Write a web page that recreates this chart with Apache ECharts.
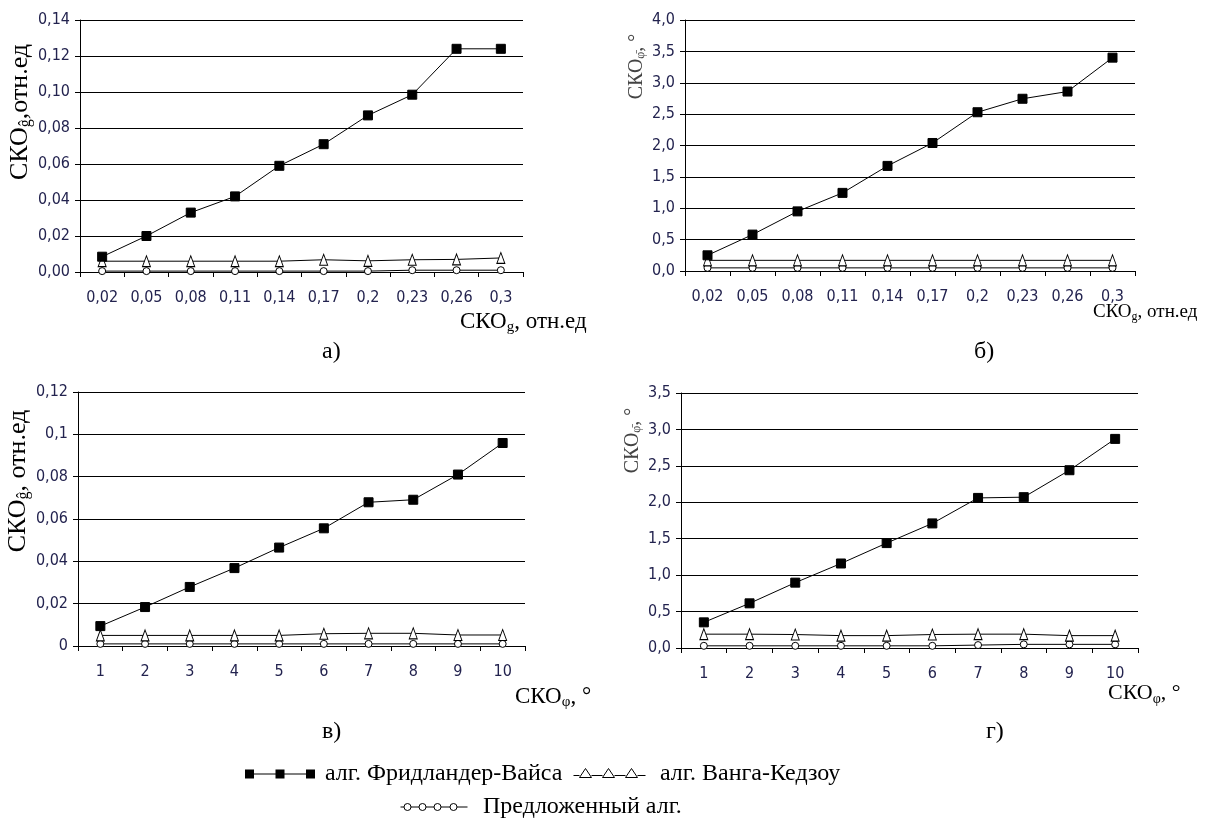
<!DOCTYPE html>
<html>
<head>
<meta charset="utf-8">
<script src="https://cdn.jsdelivr.net/npm/echarts@6/dist/echarts.min.js"></script>
<style>
html,body{margin:0;padding:0;background:#fff;}
#chart{width:1221px;height:834px;}
</style>
</head>
<body>
<div id="chart"></div>
<script>
// категории по оси X
var catsG = ['0,02','0,05','0,08','0,11','0,14','0,17','0,2','0,23','0,26','0,3'];
var catsPhi = ['1','2','3','4','5','6','7','8','9','10'];

// а) СКО g от СКО g
var fwA = [0.0085,0.020,0.033,0.042,0.059,0.071,0.087,0.0985,0.124,0.124];
var wkA = [0.006,0.006,0.006,0.006,0.006,0.0068,0.0062,0.0068,0.007,0.0078];
var prA = [0.0005,0.0005,0.0005,0.0005,0.0005,0.0005,0.0005,0.001,0.001,0.001];

// б) СКО фи от СКО g
var fwB = [0.25,0.58,0.95,1.245,1.675,2.04,2.53,2.745,2.86,3.40];
var wkB = [0.17,0.17,0.17,0.17,0.17,0.17,0.17,0.17,0.17,0.17];
var prB = [0.05,0.05,0.05,0.05,0.05,0.05,0.05,0.05,0.05,0.05];

// в) СКО g от СКО фи
var fwC = [0.0094,0.0184,0.0279,0.0368,0.0465,0.0556,0.0679,0.0691,0.081,0.0959];
var wkC = [0.005,0.005,0.005,0.005,0.005,0.0058,0.006,0.006,0.0052,0.0052];
var prC = [0.001,0.001,0.001,0.001,0.001,0.001,0.001,0.001,0.001,0.001];

// г) СКО фи от СКО фи
var fwD = [0.352,0.613,0.897,1.16,1.44,1.71,2.06,2.07,2.44,2.87];
var wkD = [0.19,0.19,0.185,0.17,0.17,0.185,0.19,0.19,0.17,0.17];
var prD = [0.03,0.03,0.03,0.03,0.03,0.03,0.04,0.05,0.05,0.05];

var nFW = 'алг. Фридландер-Вайса';
var nWK = 'алг. Ванга-Кедзоу';
var nPR = 'Предложенный алг.';

var sans = "'DejaVu Sans Condensed', 'Liberation Sans', sans-serif";
var serif = "'Liberation Serif', serif";
var tickColor = '#23234f';

var myChart = echarts.init(document.getElementById('chart'));

function comma(digits){
	return function(v){
		var s = digits === null ? String(+v.toFixed(4)) : v.toFixed(digits);
		return s.replace('.', ',');
	};
}

function xAx(idx, cats){
	return {
		type:'category', gridIndex:idx, data:cats, boundaryGap:true,
		axisLine:{lineStyle:{color:'#000',width:1}},
		axisTick:{show:true,interval:0,length:5,lineStyle:{color:'#000'}},
		axisLabel:{interval:0,margin:18,fontSize:16,fontFamily:sans,color:tickColor},
		splitLine:{show:false}
	};
}
function yAx(idx, max, step, digits, name, nameSize, nameColor, gap, shift){
	return {
		type:'value', gridIndex:idx, min:0, max:max, interval:step,
		axisLine:{show:true,lineStyle:{color:'#000',width:1}},
		axisTick:{show:true,length:5,lineStyle:{color:'#000'}},
		axisLabel:{margin:10,fontSize:16,fontFamily:sans,color:tickColor,formatter:comma(digits)},
		splitLine:{show:true,lineStyle:{color:'#000',width:1}},
		name:name, nameLocation:'middle', nameRotate:90, nameGap:gap,
		nameTextStyle:{
			fontFamily:serif, fontSize:nameSize, color:nameColor,
			padding:[0,0,0,shift],
			rich:{
				m:{fontFamily:serif,fontSize:nameSize,color:nameColor},
				s:{fontFamily:serif,fontSize:Math.round(nameSize*0.62),color:nameColor,padding:[Math.round(nameSize*0.45),0,0,0]}
			}
		}
	};
}
function ser(name, idx, data, kind){
	var s = {
		name:name, type:'line', xAxisIndex:idx, yAxisIndex:idx, data:data,
		lineStyle:{color:'#000',width:1}, animation:false, z:2
	};
	if(kind === 'sq'){
		s.symbol='rect'; s.symbolSize=9; s.itemStyle={color:'#000',borderColor:'#000'}; s.z=4;
	}else if(kind === 'tr'){
		s.symbol='triangle'; s.symbolSize=[8,11]; s.itemStyle={color:'#fff',borderColor:'#000',borderWidth:1}; s.z=3;
	}else{
		s.symbol='circle'; s.symbolSize=7; s.itemStyle={color:'#fff',borderColor:'#000',borderWidth:1};
	}
	return s;
}

var iconSq = 'path://M0 4.4h70v1.2h-70z M0 0.5h9v9h-9z M30.5 0.5h9v9h-9z M61 0.5h9v9h-9z';
var iconTr = 'path://M0 7L6 7 M18 7L29 7 M41 7L52 7 M64 7L72 7 M6 9L12 0L18 9Z M29 9L35 0L41 9Z M52 9L58 0L64 9Z';
var iconCi = 'path://M0 5L3.5 5 M10.5 5L18.5 5 M25.5 5L33.5 5 M40.5 5L49.5 5 M56.5 5L67 5 '
	+'M10.5 5A3.5 3.5 0 1 1 3.5 5A3.5 3.5 0 1 1 10.5 5Z '
	+'M25.5 5A3.5 3.5 0 1 1 18.5 5A3.5 3.5 0 1 1 25.5 5Z '
	+'M40.5 5A3.5 3.5 0 1 1 33.5 5A3.5 3.5 0 1 1 40.5 5Z '
	+'M56.5 5A3.5 3.5 0 1 1 49.5 5A3.5 3.5 0 1 1 56.5 5Z';

var subTitle = {fontFamily:serif,fontSize:24,color:'#000',fontWeight:'normal'};
var legTitle = {fontFamily:serif,fontSize:24,color:'#000',fontWeight:'normal'};
function xName(txt, left, top, size){
	return {
		text:txt, left:left, top:top, padding:0,
		textStyle:{
			fontFamily:serif,fontSize:size,color:'#000',fontWeight:'normal',
			rich:{
				m:{fontFamily:serif,fontSize:size,color:'#000'},
				s:{fontFamily:serif,fontSize:Math.round(size*0.65),color:'#000',padding:[Math.round(size*0.5),0,0,0]}
			}
		}
	};
}
// значки легенды - legend, подписи - отдельным текстом с засечками
function legIcon(name, icon, left, top, w, h, style){
	return {
		left:left, top:top, itemWidth:w, itemHeight:h, padding:0,
		selectedMode:false,
		formatter:function(){ return ''; },
		textStyle:{fontSize:1},
		data:[{name:name, icon:icon, itemStyle:style}]
	};
}

option = {
	backgroundColor:'#fff',
	animation:false,
	textStyle:{fontFamily:serif},
	title:[
		{text:'а)',left:322,top:340,padding:0,textStyle:subTitle},
		{text:'б)',left:974,top:340,padding:0,textStyle:subTitle},
		{text:'в)',left:322,top:720,padding:0,textStyle:subTitle},
		{text:'г)',left:986,top:720,padding:0,textStyle:subTitle},
		xName('{m|СКО}{s|g}{m|, отн.ед}',460,308,23),
		xName('{m|СКО}{s|g}{m|, отн.ед}',1093,301,19),
		xName('{m|СКО}{s|φ}{m|, °}',515,683,23),
		xName('{m|СКО}{s|φ}{m|, °}',1108,681,22),
		{text:nFW,left:325,top:762,padding:0,textStyle:legTitle},
		{text:nWK,left:660,top:762,padding:0,textStyle:legTitle},
		{text:nPR,left:483,top:795,padding:0,textStyle:legTitle}
	],
	legend:[
		legIcon(nFW,iconSq,245,769,70,10,{color:'#000',borderColor:'#000',borderWidth:0}),
		legIcon(nWK,iconTr,573,768,72,9,{color:'#fff',borderColor:'#000',borderWidth:1}),
		legIcon(nPR,iconCi,400,803,67,8,{color:'#fff',borderColor:'#000',borderWidth:1})
	],
	grid:[
		{left:80, top:20, width:443, height:252},
		{left:685, top:20, width:450, height:251},
		{left:78, top:392, width:447, height:254},
		{left:681, top:393, width:457, height:255}
	],
	xAxis:[xAx(0,catsG), xAx(1,catsG), xAx(2,catsPhi), xAx(3,catsPhi)],
	yAxis:[
		yAx(0,0.14,0.02,2,'{m|СКО}{s|ĝ}{m|,отн.ед}',26,'#000',45,68),
		yAx(1,4,0.5,1,'{m|СКО}{s|φ̄}{m|, °}',20,'#444',38,158),
		yAx(2,0.12,0.02,null,'{m|СКО}{s|ĝ}{m|, отн.ед}',26,'#000',45,76),
		yAx(3,3.5,0.5,1,'{m|СКО}{s|φ̄}{m|, °}',20,'#444',38,160)
	],
	series:[
		ser(nPR,0,prA,'ci'), ser(nWK,0,wkA,'tr'), ser(nFW,0,fwA,'sq'),
		ser(nPR,1,prB,'ci'), ser(nWK,1,wkB,'tr'), ser(nFW,1,fwB,'sq'),
		ser(nPR,2,prC,'ci'), ser(nWK,2,wkC,'tr'), ser(nFW,2,fwC,'sq'),
		ser(nPR,3,prD,'ci'), ser(nWK,3,wkD,'tr'), ser(nFW,3,fwD,'sq')
	]
};
myChart.setOption(option);
</script>
</body>
</html>
